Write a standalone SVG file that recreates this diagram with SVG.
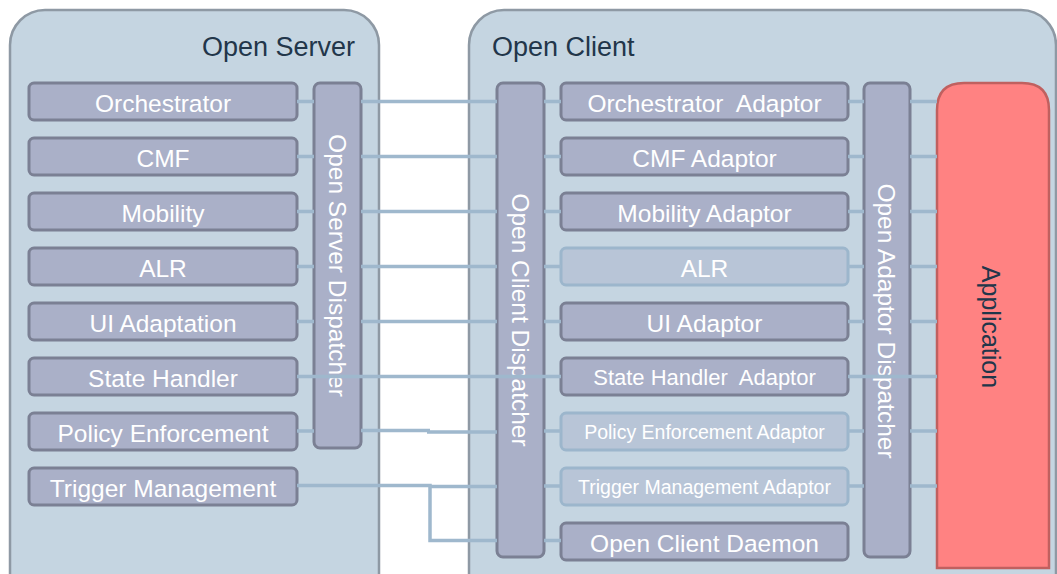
<svg xmlns="http://www.w3.org/2000/svg" width="1057" height="574" viewBox="0 0 1057 574">
  <style>
    .container { fill: #c5d5e1; stroke: #8e99a4; stroke-width: 2.5; }
    .title { font-family: "Liberation Sans", Arial, sans-serif; font-size: 27px; fill: #22364a; }
    .box { fill: #aab0c8; stroke: #7b8094; stroke-width: 3; }
    .box-light { fill: #b8c5d7; stroke: #9cb6cc; stroke-width: 3; }
    .label { font-family: "Liberation Sans", Arial, sans-serif; font-size: 24.5px; fill: #ffffff; text-anchor: middle; white-space: pre; }
    .small { font-size: 19.5px; }
    .mid { font-size: 22px; }
    .app { fill: #ff8282; stroke: #c0605f; stroke-width: 2.5; }
    .app-label { font-family: "Liberation Sans", Arial, sans-serif; font-size: 25px; fill: #22364a; text-anchor: middle; }
    .wire { fill: none; stroke: #9fb8cd; stroke-width: 3.5; }
  </style>

  <!-- containers -->
  <g id="open-server">
    <rect class="container" x="10" y="10" width="369" height="600" rx="35"/>
    <text class="title" x="355" y="56" text-anchor="end">Open Server</text>
  </g>
  <g id="open-client">
    <rect class="container" x="469" y="10" width="587" height="600" rx="35"/>
    <text class="title" x="492" y="56">Open Client</text>
  </g>

  <!-- server modules -->
  <g id="srv-orchestrator"><rect class="box" x="29" y="83" width="268" height="37" rx="5"/><text class="label" x="163" y="111.5">Orchestrator</text></g>
  <g id="srv-cmf"><rect class="box" x="29" y="138" width="268" height="37" rx="5"/><text class="label" x="163" y="166.5">CMF</text></g>
  <g id="srv-mobility"><rect class="box" x="29" y="193" width="268" height="37" rx="5"/><text class="label" x="163" y="221.5">Mobility</text></g>
  <g id="srv-alr"><rect class="box" x="29" y="248" width="268" height="37" rx="5"/><text class="label" x="163" y="276.5">ALR</text></g>
  <g id="srv-ui"><rect class="box" x="29" y="303" width="268" height="37" rx="5"/><text class="label" x="163" y="331.5">UI Adaptation</text></g>
  <g id="srv-state"><rect class="box" x="29" y="358" width="268" height="37" rx="5"/><text class="label" x="163" y="386.5">State Handler</text></g>
  <g id="srv-policy"><rect class="box" x="29" y="413" width="268" height="37" rx="5"/><text class="label" x="163" y="441.5">Policy Enforcement</text></g>
  <g id="srv-trigger"><rect class="box" x="29" y="468" width="268" height="37" rx="5"/><text class="label" x="163" y="496.5">Trigger Management</text></g>

  <!-- dispatchers -->
  <g id="server-dispatcher">
    <rect class="box" x="314" y="83" width="47" height="365" rx="6"/>
    <text class="label" transform="translate(337.5 265.5) rotate(90)" x="0" y="8.8">Open Server Dispatcher</text>
  </g>
  <g id="client-dispatcher">
    <rect class="box" x="497" y="83" width="47" height="474" rx="6"/>
    <text class="label" transform="translate(520.5 320) rotate(90)" x="0" y="8.8">Open Client Dispatcher</text>
  </g>
  <g id="adaptor-dispatcher">
    <rect class="box" x="864" y="83" width="46" height="474" rx="6"/>
    <text class="label" transform="translate(887 321) rotate(90)" x="0" y="8.8">Open Adaptor Dispatcher</text>
  </g>

  <!-- client adaptors -->
  <g id="cl-orchestrator"><rect class="box" x="561" y="83" width="287" height="37" rx="5"/><text class="label" x="704.5" y="111.5">Orchestrator  Adaptor</text></g>
  <g id="cl-cmf"><rect class="box" x="561" y="138" width="287" height="37" rx="5"/><text class="label" x="704.5" y="166.5">CMF Adaptor</text></g>
  <g id="cl-mobility"><rect class="box" x="561" y="193" width="287" height="37" rx="5"/><text class="label" x="704.5" y="221.5">Mobility Adaptor</text></g>
  <g id="cl-alr"><rect class="box-light" x="561" y="248" width="287" height="37" rx="5"/><text class="label" x="704.5" y="276.5">ALR</text></g>
  <g id="cl-ui"><rect class="box" x="561" y="303" width="287" height="37" rx="5"/><text class="label" x="704.5" y="331.5">UI Adaptor</text></g>
  <g id="cl-state"><rect class="box" x="561" y="358" width="287" height="37" rx="5"/><text class="label mid" x="704.5" y="385">State Handler  Adaptor</text></g>
  <g id="cl-policy"><rect class="box-light" x="561" y="413" width="287" height="37" rx="5"/><text class="label small" x="704.5" y="438.5">Policy Enforcement Adaptor</text></g>
  <g id="cl-trigger"><rect class="box-light" x="561" y="468" width="287" height="37" rx="5"/><text class="label small" x="704.5" y="493.5">Trigger Management Adaptor</text></g>
  <g id="cl-daemon"><rect class="box" x="561" y="523" width="287" height="37" rx="5"/><text class="label" x="704.5" y="551.5">Open Client Daemon</text></g>

  <!-- application -->
  <g id="application">
    <path class="app" d="M937,568 V110 Q937,83 964,83 H1022 Q1049,83 1049,110 V568 Z"/>
    <text class="app-label" transform="translate(991 327) rotate(90)" x="0" y="9">Application</text>
  </g>

  <!-- connectors -->
  <g id="connectors">
    <!-- server modules to server dispatcher -->
    <path class="wire" d="M297,101.5 H314 M297,156.5 H314 M297,211.5 H314 M297,266.5 H314 M297,321.5 H314 M297,431 H314"/>
    <!-- server dispatcher to client dispatcher -->
    <path class="wire" d="M361,101.5 H497 M361,156.5 H497 M361,211.5 H497 M361,266.5 H497 M361,321.5 H497"/>
    <path class="wire" d="M361,430.5 H430 M427,432 H497"/>
    <!-- state handler runs straight through -->
    <path class="wire" d="M297,376.5 H561 M848,376.5 H937"/>
    <!-- trigger management branches to daemon -->
    <path class="wire" d="M297,485.5 H430 V540.5 H497 M430,486.5 H497"/>
    <!-- client dispatcher to adaptors -->
    <path class="wire" d="M544,101.5 H561 M544,156.5 H561 M544,211.5 H561 M544,266.5 H561 M544,321.5 H561 M544,431 H561 M544,486 H561 M544,540.5 H561"/>
    <!-- adaptors to adaptor dispatcher -->
    <path class="wire" d="M848,101.5 H864 M848,156.5 H864 M848,211.5 H864 M848,266.5 H864 M848,321.5 H864 M848,431 H864 M848,486 H864"/>
    <!-- adaptor dispatcher to application -->
    <path class="wire" d="M910,101.5 H937 M910,156.5 H937 M910,211.5 H937 M910,266.5 H937 M910,321.5 H937 M910,431 H937 M910,486 H937"/>
  </g>
</svg>
